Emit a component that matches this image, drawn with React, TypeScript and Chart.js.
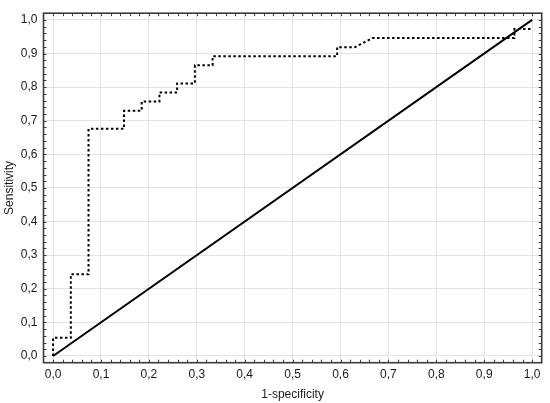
import React, { useEffect, useRef } from "react";
import { Chart, registerables } from "chart.js";

Chart.register(...registerables);

const AXIS_TICKS = [0, 0.1, 0.2, 0.3, 0.4, 0.5, 0.6, 0.7, 0.8, 0.9, 1.0];

const ROC_X = [
  0, 0, 0.037, 0.037, 0.074, 0.074, 0.148, 0.148, 0.185, 0.185, 0.222, 0.222,
  0.259, 0.259, 0.296, 0.296, 0.333, 0.333, 0.593, 0.593, 0.63, 0.667, 0.963,
  0.963, 1.0,
];
const ROC_Y = [
  0, 0.054, 0.054, 0.243, 0.243, 0.676, 0.676, 0.73, 0.73, 0.757, 0.757, 0.784,
  0.784, 0.811, 0.811, 0.865, 0.865, 0.892, 0.892, 0.919, 0.919, 0.946, 0.946,
  0.973, 0.973,
];

const DIAG_X = [0, 1];
const DIAG_Y = [0, 1];

const FONT = "'Liberation Sans', Arial, sans-serif";
const fmt = (v: number) => v.toFixed(1).replace(".", ",");

const framePlugin = {
  id: "frame",
  afterDraw(chart: any) {
    const { ctx, chartArea, scales } = chart;
    const { left, right, top, bottom } = chartArea;
    ctx.save();
    ctx.strokeStyle = "#3c3c3c";
    ctx.lineWidth = 1;
    ctx.beginPath();
    const tl = 3;
    for (let i = 0; i <= 50; i++) {
      const v = i * 0.02;
      const px = Math.round(scales.x.getPixelForValue(v)) + 0.5;
      const py = Math.round(scales.y.getPixelForValue(v)) + 0.5;
      ctx.moveTo(px, bottom);
      ctx.lineTo(px, bottom - tl);
      ctx.moveTo(px, top);
      ctx.lineTo(px, top + tl);
      ctx.moveTo(left, py);
      ctx.lineTo(left + tl, py);
      ctx.moveTo(right, py);
      ctx.lineTo(right - tl, py);
    }
    ctx.stroke();
    ctx.lineWidth = 1.6;
    ctx.strokeStyle = "#3a3a3a";
    ctx.strokeRect(left, top, right - left, bottom - top);
    ctx.restore();
  },
};

export default function App() {
  const ref = useRef<HTMLCanvasElement | null>(null);

  useEffect(() => {
    if (!ref.current) return;
    const chart = new Chart(ref.current, {
      type: "scatter",
      data: {
        datasets: [
          {
            label: "ROC",
            data: ROC_X.map((x, i) => ({ x, y: ROC_Y[i] })),
            showLine: true,
            borderColor: "#000",
            borderWidth: 2,
            borderDash: [2.5, 2.5],
            pointRadius: 0,
            fill: false,
          },
          {
            label: "Reference",
            data: DIAG_X.map((x, i) => ({ x, y: DIAG_Y[i] })),
            showLine: true,
            borderColor: "#000",
            borderWidth: 2,
            pointRadius: 0,
            fill: false,
          },
        ],
      },
      options: {
        animation: false,
        responsive: true,
        maintainAspectRatio: false,
        layout: { padding: { top: 4, right: 8.3, left: 0, bottom: 0 } },
        plugins: {
          legend: { display: false },
          tooltip: { enabled: false },
        },
        scales: {
          x: {
            type: "linear",
            min: -0.02,
            max: 1.02,
            afterBuildTicks: (axis: any) => {
              axis.ticks = AXIS_TICKS.map((v) => ({ value: v }));
            },
            afterFit: (axis: any) => {
              axis.height = 40.3;
            },
            grid: { color: "#e3e3e3", lineWidth: 1, drawTicks: false },
            border: { display: false },
            ticks: {
              callback: (v: any) => fmt(Number(v)),
              color: "#1a1a1a",
              font: { family: FONT, size: 12 },
              padding: 5,
              maxRotation: 0,
              autoSkip: false,
            },
            title: {
              display: true,
              text: "1-specificity",
              color: "#1a1a1a",
              font: { family: FONT, size: 12 },
              padding: { top: 0, bottom: 0.8 },
            },
          },
          y: {
            type: "linear",
            min: -0.02,
            max: 1.02,
            afterBuildTicks: (axis: any) => {
              axis.ticks = AXIS_TICKS.map((v) => ({ value: v }));
            },
            afterFit: (axis: any) => {
              axis.width = 43.5;
            },
            grid: { color: "#e3e3e3", lineWidth: 1, drawTicks: false },
            border: { display: false },
            ticks: {
              callback: (v: any) => fmt(Number(v)),
              color: "#1a1a1a",
              font: { family: FONT, size: 12 },
              padding: 6,
              autoSkip: false,
            },
            title: {
              display: true,
              text: "Sensitivity",
              color: "#1a1a1a",
              font: { family: FONT, size: 12 },
              padding: { top: 2.8, bottom: 0 },
            },
          },
        },
      },
      plugins: [framePlugin],
    });
    return () => chart.destroy();
  }, []);

  return (
    <div
      style={{
        position: "absolute",
        left: 0,
        top: 0,
        width: 550,
        height: 403,
        background: "#fff",
      }}
    >
      <canvas ref={ref} />
    </div>
  );
}
